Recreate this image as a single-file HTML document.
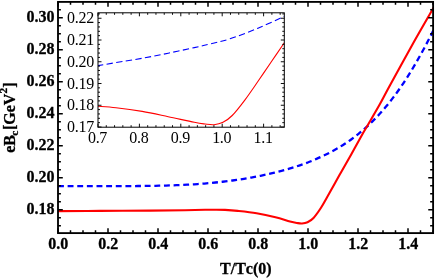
<!DOCTYPE html>
<html><head><meta charset="utf-8"><title>plot</title>
<style>html,body{margin:0;padding:0;background:#fff;}body{width:436px;height:278px;overflow:hidden;font-family:"Liberation Serif",serif;}svg{display:block;will-change:transform}</style></head>
<body>
<svg width="436" height="278" viewBox="0 0 436 278">
<rect width="436" height="278" fill="#fff"/>
<defs><clipPath id="cm"><rect x="58.0" y="1.9" width="376.1" height="231.2"/></clipPath><clipPath id="ci"><rect x="98.0" y="12.8" width="186.3" height="114.4"/></clipPath></defs>
<g clip-path="url(#cm)" fill="none" stroke-linejoin="round">
<path d="M57.50 186.15 C58.67 186.15 62.17 186.15 64.50 186.15 C66.83 186.15 69.17 186.15 71.50 186.15 C73.83 186.15 76.17 186.15 78.50 186.15 C80.83 186.15 83.17 186.15 85.50 186.15 C87.83 186.15 90.17 186.15 92.50 186.15 C94.83 186.15 97.17 186.14 99.50 186.14 C101.83 186.14 104.17 186.14 106.50 186.14 C108.83 186.14 111.17 186.13 113.50 186.13 C115.83 186.12 118.17 186.12 120.50 186.11 C122.83 186.10 125.17 186.09 127.50 186.08 C129.83 186.07 132.17 186.06 134.50 186.04 C136.83 186.02 139.17 186.01 141.50 185.99 C143.83 185.97 146.17 185.93 148.50 185.90 C150.83 185.87 153.17 185.83 155.50 185.79 C157.83 185.75 160.17 185.70 162.50 185.64 C164.83 185.58 167.17 185.52 169.50 185.45 C171.83 185.38 174.17 185.29 176.50 185.20 C178.83 185.11 181.17 185.00 183.50 184.89 C185.83 184.77 188.17 184.65 190.50 184.51 C192.83 184.37 195.17 184.22 197.50 184.06 C199.83 183.90 202.17 183.72 204.50 183.53 C206.83 183.34 209.17 183.13 211.50 182.91 C213.83 182.69 216.17 182.45 218.50 182.20 C220.83 181.95 223.17 181.68 225.50 181.40 C227.83 181.12 230.17 180.82 232.50 180.50 C234.83 180.18 237.17 179.84 239.50 179.49 C241.83 179.14 244.17 178.76 246.50 178.37 C248.83 177.98 251.17 177.57 253.50 177.14 C255.83 176.71 258.17 176.25 260.50 175.78 C262.83 175.31 265.17 174.81 267.50 174.29 C269.83 173.77 272.17 173.23 274.50 172.66 C276.83 172.09 279.17 171.50 281.50 170.87 C283.83 170.25 286.17 169.60 288.50 168.91 C290.83 168.22 293.17 167.50 295.50 166.75 C297.83 166.00 300.17 165.22 302.50 164.39 C304.83 163.56 307.17 162.70 309.50 161.79 C311.83 160.88 314.17 159.92 316.50 158.91 C318.83 157.90 321.17 156.85 323.50 155.74 C325.83 154.63 328.17 153.46 330.50 152.23 C332.83 151.00 335.17 149.70 337.50 148.33 C339.83 146.96 342.17 145.53 344.50 144.01 C346.83 142.49 349.17 140.90 351.50 139.21 C353.83 137.52 356.17 135.75 358.50 133.87 C360.83 131.99 363.17 130.02 365.50 127.94 C367.83 125.86 370.17 123.68 372.50 121.37 C374.83 119.06 377.17 116.65 379.50 114.09 C381.83 111.53 384.17 108.86 386.50 106.04 C388.83 103.22 391.17 100.28 393.50 97.18 C395.83 94.08 398.17 90.84 400.50 87.46 C402.83 84.07 405.17 80.55 407.50 76.87 C409.83 73.20 412.17 69.37 414.50 65.41 C416.83 61.45 419.17 57.33 421.50 53.09 C423.83 48.86 426.48 43.84 428.50 40.00 C430.52 36.16 432.75 31.70 433.60 30.04" stroke="#0000ff" stroke-width="2.3" stroke-dasharray="5.9 3.736" stroke-dashoffset="-0.47"/>
<path d="M57.50 211.10 C64.58 211.07 84.58 210.98 100.00 210.90 C115.42 210.82 135.83 210.72 150.00 210.60 C164.17 210.48 175.83 210.33 185.00 210.20 C194.17 210.07 200.00 209.88 205.00 209.80 C210.00 209.72 211.67 209.68 215.00 209.70 C218.33 209.72 221.22 209.70 225.00 209.90 C228.78 210.10 232.43 210.33 237.70 210.90 C242.97 211.47 250.30 212.23 256.60 213.30 C262.90 214.37 269.93 215.93 275.50 217.30 C281.07 218.67 286.42 220.55 290.00 221.50 C293.58 222.45 295.00 222.67 297.00 223.00 C299.00 223.33 300.25 223.62 302.00 223.50 C303.75 223.38 305.58 223.22 307.50 222.30 C309.42 221.38 311.25 220.42 313.50 218.00 C315.75 215.58 318.72 211.30 321.00 207.80 C323.28 204.30 324.17 202.37 327.20 197.00 C330.23 191.63 335.20 182.70 339.20 175.60 C343.20 168.50 347.27 161.40 351.20 154.40 C355.13 147.40 360.05 138.47 362.80 133.60 C365.55 128.73 364.87 130.08 367.70 125.20 C370.53 120.32 376.15 110.83 379.80 104.30 C383.45 97.77 383.90 96.42 389.60 86.00 C395.30 75.58 406.68 54.83 414.00 41.80 C421.32 28.77 430.25 13.47 433.50 7.80" stroke="#ff0000" stroke-width="2.1"/>
</g>
<rect x="58.0" y="1.9" width="375.1" height="231.2" fill="none" stroke="#000" stroke-width="1.85"/>
<path d="M58.00 233.10V228.30M58.00 1.90V6.70M70.50 233.10V230.20M70.50 1.90V4.80M83.00 233.10V230.20M83.00 1.90V4.80M95.50 233.10V230.20M95.50 1.90V4.80M108.00 233.10V228.30M108.00 1.90V6.70M120.50 233.10V230.20M120.50 1.90V4.80M133.00 233.10V230.20M133.00 1.90V4.80M145.50 233.10V230.20M145.50 1.90V4.80M158.00 233.10V228.30M158.00 1.90V6.70M170.50 233.10V230.20M170.50 1.90V4.80M183.00 233.10V230.20M183.00 1.90V4.80M195.50 233.10V230.20M195.50 1.90V4.80M208.00 233.10V228.30M208.00 1.90V6.70M220.50 233.10V230.20M220.50 1.90V4.80M233.00 233.10V230.20M233.00 1.90V4.80M245.50 233.10V230.20M245.50 1.90V4.80M258.00 233.10V228.30M258.00 1.90V6.70M270.50 233.10V230.20M270.50 1.90V4.80M283.00 233.10V230.20M283.00 1.90V4.80M295.50 233.10V230.20M295.50 1.90V4.80M308.00 233.10V228.30M308.00 1.90V6.70M320.50 233.10V230.20M320.50 1.90V4.80M333.00 233.10V230.20M333.00 1.90V4.80M345.50 233.10V230.20M345.50 1.90V4.80M358.00 233.10V228.30M358.00 1.90V6.70M370.50 233.10V230.20M370.50 1.90V4.80M383.00 233.10V230.20M383.00 1.90V4.80M395.50 233.10V230.20M395.50 1.90V4.80M408.00 233.10V228.30M408.00 1.90V6.70M420.50 233.10V230.20M420.50 1.90V4.80M433.00 233.10V230.20M433.00 1.90V4.80M58.00 225.80H60.90M433.05 225.80H430.15M58.00 217.80H60.90M433.05 217.80H430.15M58.00 209.80H62.80M433.05 209.80H428.25M58.00 201.80H60.90M433.05 201.80H430.15M58.00 193.80H60.90M433.05 193.80H430.15M58.00 185.80H60.90M433.05 185.80H430.15M58.00 177.80H62.80M433.05 177.80H428.25M58.00 169.80H60.90M433.05 169.80H430.15M58.00 161.80H60.90M433.05 161.80H430.15M58.00 153.80H60.90M433.05 153.80H430.15M58.00 145.80H62.80M433.05 145.80H428.25M58.00 137.80H60.90M433.05 137.80H430.15M58.00 129.80H60.90M433.05 129.80H430.15M58.00 121.80H60.90M433.05 121.80H430.15M58.00 113.80H62.80M433.05 113.80H428.25M58.00 105.80H60.90M433.05 105.80H430.15M58.00 97.80H60.90M433.05 97.80H430.15M58.00 89.80H60.90M433.05 89.80H430.15M58.00 81.80H62.80M433.05 81.80H428.25M58.00 73.80H60.90M433.05 73.80H430.15M58.00 65.80H60.90M433.05 65.80H430.15M58.00 57.80H60.90M433.05 57.80H430.15M58.00 49.80H62.80M433.05 49.80H428.25M58.00 41.80H60.90M433.05 41.80H430.15M58.00 33.80H60.90M433.05 33.80H430.15M58.00 25.80H60.90M433.05 25.80H430.15M58.00 17.80H62.80M433.05 17.80H428.25M58.00 9.80H60.90M433.05 9.80H430.15" stroke="#000" stroke-width="1.5" fill="none"/>
<g font-family="Liberation Serif, serif" font-weight="bold" font-size="16px" fill="#000" stroke="#000" stroke-width="0.3">
<text x="54.5" y="213.7" text-anchor="end">0.18</text>
<text x="54.5" y="181.7" text-anchor="end">0.20</text>
<text x="54.5" y="149.7" text-anchor="end">0.22</text>
<text x="54.5" y="117.7" text-anchor="end">0.24</text>
<text x="54.5" y="85.7" text-anchor="end">0.26</text>
<text x="54.5" y="53.7" text-anchor="end">0.28</text>
<text x="54.5" y="21.7" text-anchor="end">0.30</text>
<text x="58.3" y="249.3" text-anchor="middle">0.0</text>
<text x="108.3" y="249.3" text-anchor="middle">0.2</text>
<text x="158.3" y="249.3" text-anchor="middle">0.4</text>
<text x="208.3" y="249.3" text-anchor="middle">0.6</text>
<text x="258.3" y="249.3" text-anchor="middle">0.8</text>
<text x="308.3" y="249.3" text-anchor="middle">1.0</text>
<text x="358.3" y="249.3" text-anchor="middle">1.2</text>
<text x="408.3" y="249.3" text-anchor="middle">1.4</text>
<text x="245.8" y="273.6" text-anchor="middle" style="font-kerning:none">T/Tc(0)</text>
<text transform="translate(15.1,117.7) rotate(-90)" text-anchor="middle">eB<tspan font-size="11.4px" dx="-0.8" dy="3.0">c</tspan><tspan dx="0.8" dy="-3.0">[GeV</tspan><tspan font-size="11.4px" dy="-8.2">2</tspan><tspan dy="8.2">]</tspan></text>
</g>
<rect x="98.0" y="12.8" width="186.3" height="114.4" fill="#fff"/>
<g clip-path="url(#ci)" fill="none">
<path d="M98.00 65.60 C101.00 65.10 108.63 63.82 116.00 62.60 C123.37 61.38 133.50 59.87 142.20 58.30 C150.90 56.73 159.52 54.98 168.20 53.20 C176.88 51.42 187.33 49.13 194.30 47.60 C201.27 46.07 204.05 45.47 210.00 44.00 C215.95 42.53 222.00 41.43 230.00 38.80 C238.00 36.17 248.95 31.93 258.00 28.20 C267.05 24.47 279.92 18.37 284.30 16.40" stroke="#0000ff" stroke-width="1.1" stroke-dasharray="6.35 3.33" stroke-dashoffset="0.9"/>
<path d="M98.00 106.30 C101.00 106.53 108.63 106.85 116.00 107.70 C123.37 108.55 133.50 109.90 142.20 111.40 C150.90 112.90 159.52 114.88 168.20 116.70 C176.88 118.52 188.17 121.08 194.30 122.30 C200.43 123.52 201.72 123.60 205.00 124.00 C208.28 124.40 211.00 124.98 214.00 124.70 C217.00 124.42 219.97 123.83 223.00 122.30 C226.03 120.77 228.53 119.25 232.20 115.50 C235.87 111.75 240.67 105.55 245.00 99.80 C249.33 94.05 253.87 87.27 258.20 81.00 C262.53 74.73 266.65 68.57 271.00 62.20 C275.35 55.83 282.08 46.03 284.30 42.80" stroke="#ff0000" stroke-width="1.1"/>
</g>
<rect x="98.0" y="12.8" width="186.3" height="114.4" fill="none" stroke="#000" stroke-width="1"/>
<path d="M98.00 127.20V123.70M98.00 12.80V16.30M106.28 127.20V125.20M106.28 12.80V14.80M114.56 127.20V125.20M114.56 12.80V14.80M122.84 127.20V125.20M122.84 12.80V14.80M131.12 127.20V125.20M131.12 12.80V14.80M139.40 127.20V123.70M139.40 12.80V16.30M147.68 127.20V125.20M147.68 12.80V14.80M155.96 127.20V125.20M155.96 12.80V14.80M164.24 127.20V125.20M164.24 12.80V14.80M172.52 127.20V125.20M172.52 12.80V14.80M180.80 127.20V123.70M180.80 12.80V16.30M189.08 127.20V125.20M189.08 12.80V14.80M197.36 127.20V125.20M197.36 12.80V14.80M205.64 127.20V125.20M205.64 12.80V14.80M213.92 127.20V125.20M213.92 12.80V14.80M222.20 127.20V123.70M222.20 12.80V16.30M230.48 127.20V125.20M230.48 12.80V14.80M238.76 127.20V125.20M238.76 12.80V14.80M247.04 127.20V125.20M247.04 12.80V14.80M255.32 127.20V125.20M255.32 12.80V14.80M263.60 127.20V123.70M263.60 12.80V16.30M271.88 127.20V125.20M271.88 12.80V14.80M280.16 127.20V125.20M280.16 12.80V14.80M98.00 127.00H101.50M284.30 127.00H280.80M98.00 122.65H100.00M284.30 122.65H282.30M98.00 118.30H100.00M284.30 118.30H282.30M98.00 113.95H100.00M284.30 113.95H282.30M98.00 109.60H100.00M284.30 109.60H282.30M98.00 105.25H101.50M284.30 105.25H280.80M98.00 100.90H100.00M284.30 100.90H282.30M98.00 96.55H100.00M284.30 96.55H282.30M98.00 92.20H100.00M284.30 92.20H282.30M98.00 87.85H100.00M284.30 87.85H282.30M98.00 83.50H101.50M284.30 83.50H280.80M98.00 79.15H100.00M284.30 79.15H282.30M98.00 74.80H100.00M284.30 74.80H282.30M98.00 70.45H100.00M284.30 70.45H282.30M98.00 66.10H100.00M284.30 66.10H282.30M98.00 61.75H101.50M284.30 61.75H280.80M98.00 57.40H100.00M284.30 57.40H282.30M98.00 53.05H100.00M284.30 53.05H282.30M98.00 48.70H100.00M284.30 48.70H282.30M98.00 44.35H100.00M284.30 44.35H282.30M98.00 40.00H101.50M284.30 40.00H280.80M98.00 35.65H100.00M284.30 35.65H282.30M98.00 31.30H100.00M284.30 31.30H282.30M98.00 26.95H100.00M284.30 26.95H282.30M98.00 22.60H100.00M284.30 22.60H282.30M98.00 18.25H101.50M284.30 18.25H280.80M98.00 13.90H100.00M284.30 13.90H282.30" stroke="#000" stroke-width="0.95" fill="none"/>
<g font-family="Liberation Serif, serif" font-size="16px" fill="#000" letter-spacing="-0.3">
<text x="93.9" y="132.0" text-anchor="end">0.17</text>
<text x="93.9" y="110.3" text-anchor="end">0.18</text>
<text x="93.9" y="88.5" text-anchor="end">0.19</text>
<text x="93.9" y="66.8" text-anchor="end">0.20</text>
<text x="93.9" y="45.0" text-anchor="end">0.21</text>
<text x="93.9" y="23.3" text-anchor="end">0.22</text>
<text x="97.5" y="143.1" text-anchor="middle">0.7</text>
<text x="138.9" y="143.1" text-anchor="middle">0.8</text>
<text x="180.3" y="143.1" text-anchor="middle">0.9</text>
<text x="221.7" y="143.1" text-anchor="middle">1.0</text>
<text x="263.1" y="143.1" text-anchor="middle">1.1</text>
</g>
</svg>
</body></html>
